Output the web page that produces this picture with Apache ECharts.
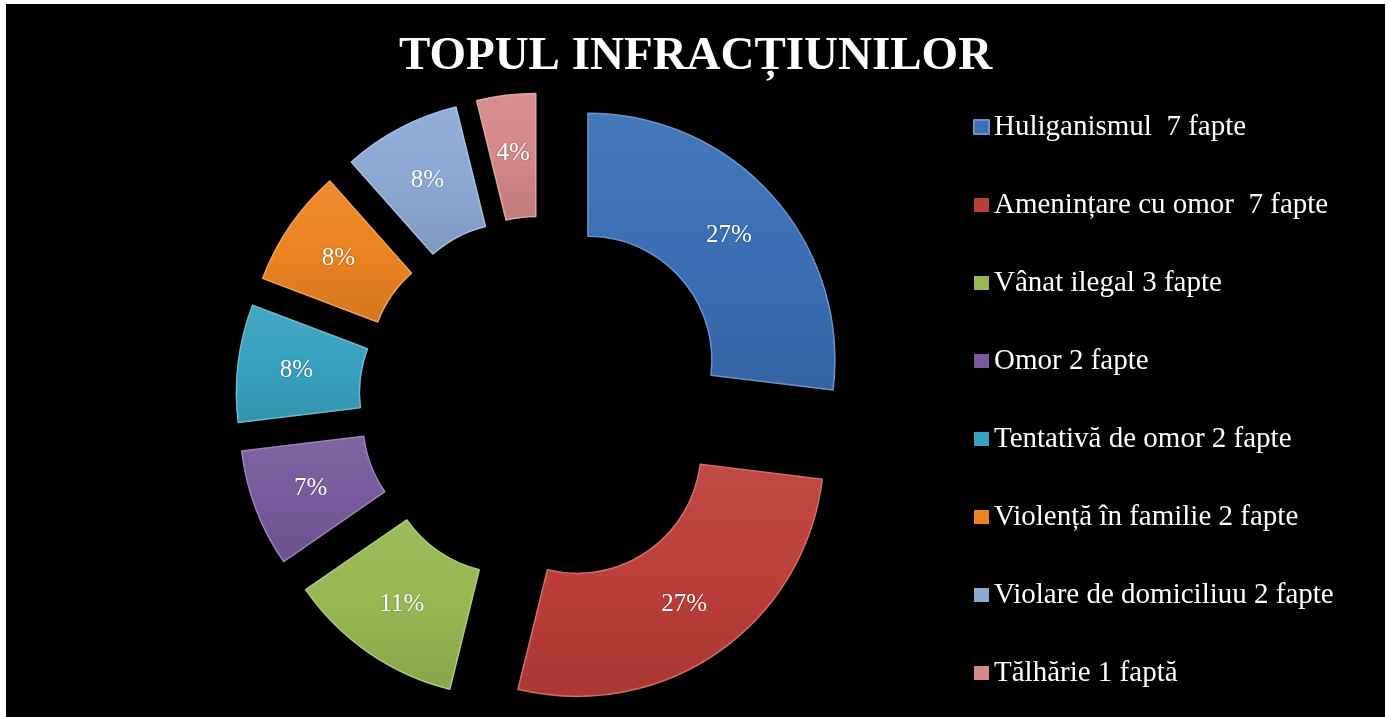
<!DOCTYPE html>
<html lang="ro">
<head>
<meta charset="UTF-8">
<title>Topul infracțiunilor</title>
<script src="https://cdn.jsdelivr.net/npm/echarts@6/dist/echarts.min.js"></script>
<style>
  html, body { margin: 0; padding: 0; background: #fff; }
  #chart { position: absolute; left: 6px; top: 4px; width: 1379px; height: 713px; background: #000; }
</style>
</head>
<body>
<div id="chart"></div>
<script>
// date
var categorii = [
  'Huliganismul  7 fapte',
  'Amenințare cu omor  7 fapte',
  'Vânat ilegal 3 fapte',
  'Omor 2 fapte',
  'Tentativă de omor 2 fapte',
  'Violență în familie 2 fapte',
  'Violare de domiciliuu 2 fapte',
  'Tălhărie 1 faptă'
];
var fapte = [7, 7, 3, 2, 2, 2, 2, 1];
var procente = ['27%', '27%', '11%', '7%', '8%', '8%', '8%', '4%'];
var culori = ['#3a6fb5', '#bc3e39', '#96b752', '#785a9c', '#38a2bf', '#ec8321', '#8ba8d5', '#d48888'];

var chart = echarts.init(document.getElementById('chart'));

var cx = 537, cy = 396;   // centrul inelului
var explode = 60;         // cat de departe e impinsa fiecare felie
var rIn = 124, rOut = 247;

function shade(hex, f) {
  var n = parseInt(hex.slice(1), 16);
  var r = n >> 16, g = (n >> 8) & 255, b = n & 255;
  function c(v) { return Math.max(0, Math.min(255, Math.round(f > 0 ? v + (255 - v) * f : v * (1 + f)))); }
  return 'rgb(' + c(r) + ',' + c(g) + ',' + c(b) + ')';
}

var total = fapte.reduce(function (a, b) { return a + b; }, 0);
var series = [];
var cum = 0;
fapte.forEach(function (v, i) {
  var mid = (cum + v / 2) / total * 2 * Math.PI;
  cum += v;
  var dx = explode * Math.sin(mid);
  var dy = -explode * Math.cos(mid);
  series.push({
    type: 'pie',
    radius: [rIn, rOut],
    center: [cx + dx, cy + dy],
    startAngle: 90,
    clockwise: true,
    avoidLabelOverlap: false,
    animation: false,
    emphasis: { disabled: true },
    labelLine: { show: false },
    data: fapte.map(function (val, j) {
      if (j !== i) {
        return { name: categorii[j], value: val, itemStyle: { color: 'rgba(0,0,0,0)', borderWidth: 0 }, label: { show: false } };
      }
      return {
        name: categorii[j],
        value: val,
        itemStyle: {
          color: new echarts.graphic.LinearGradient(0, 0, 0, 1, [
            { offset: 0, color: shade(culori[j], 0.06) },
            { offset: 0.5, color: culori[j] },
            { offset: 1, color: shade(culori[j], -0.1) }
          ]),
          borderColor: shade(culori[j], 0.25),
          borderWidth: 1.5
        },
        label: {
          show: true,
          position: 'inside',
          formatter: procente[j],
          color: '#fff',
          fontSize: 25,
          fontFamily: 'Liberation Serif',
          textShadowColor: 'rgba(0,0,0,0.35)',
          textShadowBlur: 2
        }
      };
    })
  });
});

var option = {
  backgroundColor: '#000',
  title: {
    text: 'TOPUL INFRACȚIUNILOR',
    left: 'center',
    top: 24,
    textStyle: {
      color: '#fff',
      fontFamily: 'Liberation Serif',
      fontWeight: 'bold',
      fontSize: 47
    }
  },
  legend: {
    orient: 'vertical',
    left: 962,
    top: 103,
    icon: 'rect',
    itemWidth: 15,
    itemHeight: 14,
    itemGap: 48,
    selectedMode: false,
    textStyle: {
      color: '#fff',
      fontFamily: 'Liberation Serif',
      fontSize: 29,
      lineHeight: 30
    },
    data: categorii.map(function (n, i) {
      return { name: n, itemStyle: { color: culori[i] } };
    })
  },
  series: series
};

chart.setOption(option);
</script>
</body>
</html>
